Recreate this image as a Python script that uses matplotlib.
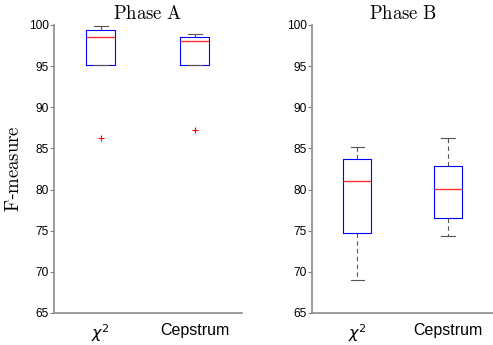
import matplotlib
matplotlib.use("Agg")
import matplotlib.pyplot as plt

plt.rcParams['mathtext.fontset'] = 'cm'
plt.rcParams['font.family'] = ['Liberation Sans', 'DejaVu Sans']

# Box statistics (F-measure, %)
labels = [r'$\chi^{2}$', 'Cepstrum']

phaseA_low = [95.18, 95.18]
phaseA_q1 = [95.18, 95.18]
phaseA_med = [98.5, 98.0]
phaseA_q3 = [99.36, 98.54]
phaseA_high = [99.84, 98.87]
phaseA_out = [[86.27], [87.24]]

phaseB_low = [68.98, 74.36]
phaseB_q1 = [74.69, 76.59]
phaseB_med = [81.04, 80.11]
phaseB_q3 = [83.68, 82.9]
phaseB_high = [85.18, 86.31]
phaseB_out = [[], []]

titles = ['Phase A', 'Phase B']


def make_stats(low, q1, med, q3, high, out):
    stats = []
    for i in range(len(low)):
        stats.append(dict(whislo=low[i], q1=q1[i], med=med[i], q3=q3[i],
                          whishi=high[i], fliers=out[i]))
    return stats


fig = plt.figure(figsize=(4.93, 3.45), dpi=100)
ax1 = fig.add_axes([0.1095, 0.0928, 0.381, 0.835])
ax2 = fig.add_axes([0.633, 0.0928, 0.367, 0.835])

all_stats = [make_stats(phaseA_low, phaseA_q1, phaseA_med, phaseA_q3, phaseA_high, phaseA_out),
             make_stats(phaseB_low, phaseB_q1, phaseB_med, phaseB_q3, phaseB_high, phaseB_out)]

for ax, stats, title in zip([ax1, ax2], all_stats, titles):
    ax.bxp(stats, positions=[1, 2], widths=0.31, showfliers=True,
           boxprops=dict(color='#0000ff', linewidth=0.8),
           medianprops=dict(color='#ff3030', linewidth=1.0),
           whiskerprops=dict(color='#555555', linestyle=(0, (4, 3)), linewidth=0.8),
           capprops=dict(color='#555555', linewidth=0.8),
           capwidths=0.15,
           flierprops=dict(marker='+', markeredgecolor='#ff0000', markersize=5,
                           markeredgewidth=0.8, linestyle='none'))
    ax.set_xlim(0.5, 2.5)
    ax.set_ylim(65, 100)
    ax.set_yticks(range(65, 101, 5))
    ax.set_xticks([1, 2])
    ax.set_xticklabels(labels)
    for lab in ax.get_xticklabels():
        lab.set_fontsize(11.5)
        lab.set_math_fontfamily('dejavusans')
    ax.tick_params(axis='y', labelsize=8.6, length=3, width=0.8, color='#808080', pad=1)
    ax.tick_params(axis='x', length=0, pad=7)
    for s in ['top', 'right']:
        ax.spines[s].set_visible(False)
    for s in ['left', 'bottom']:
        ax.spines[s].set_color('#8c8c8c')
        ax.spines[s].set_linewidth(1.2)
    ax.set_title(r'$\mathrm{' + title.replace(' ', r'\ ') + '}$', fontsize=13.5, pad=4)

ax1.set_ylabel(r'$\mathrm{F}$-$\mathrm{measure}$', fontsize=13.5, labelpad=4)

fig.savefig('out.png', dpi=100)
